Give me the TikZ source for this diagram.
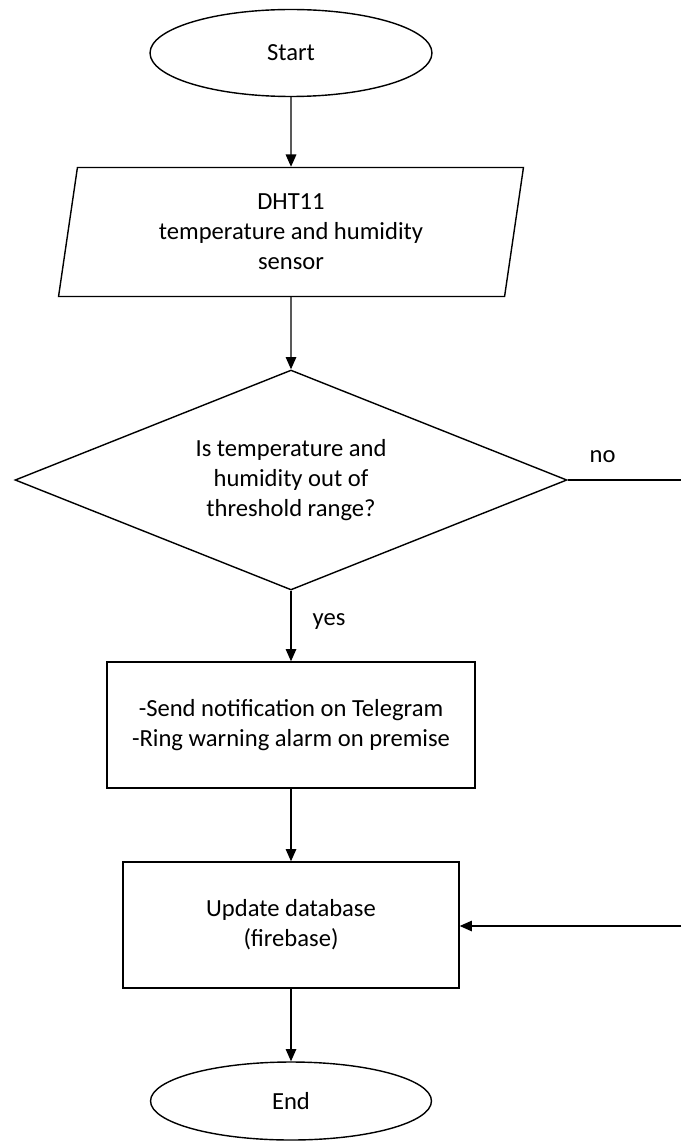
\documentclass[tikz,border=0pt]{standalone}
\usepackage{fontspec}
\setmainfont{Carlito}
\usetikzlibrary{shapes.geometric,arrows.meta}

\begin{document}
\begin{tikzpicture}[x=0.02cm,y=-0.02cm,line width=0.8pt,
    >={Triangle[length=7pt,width=6pt]},
    font=\fontsize{14}{17}\selectfont]
    \tikzstyle{terminal}=[draw,ellipse,inner sep=0pt]
    \tikzstyle{io}=[draw,trapezium,trapezium left angle=76,trapezium right angle=104,
        minimum width=9.3cm,minimum height=2.58cm,inner sep=0pt,align=center,
        trapezium stretches body]
    \tikzstyle{decision}=[draw,diamond,aspect=2.5,minimum width=11.04cm,minimum height=4.4cm,
        inner sep=0pt,align=center]
    \tikzstyle{process}=[draw,rectangle,inner sep=0pt,align=center,minimum height=2.52cm]
    \useasboundingbox (0,0) rectangle (681,1142);
    \node[terminal,minimum width=5.64cm,minimum height=1.74cm] (start) at (291,53) {Start};
    \node[io] (sensor) at (291,232) {DHT11\\temperature and humidity\\sensor};
    \node[decision] (check) at (291,480) {Is temperature and\\humidity out of\\threshold range?};
    \node[process,minimum width=7.36cm] (notify) at (291,725) {-Send notification on Telegram\\-Ring warning alarm on premise};
    \node[process,minimum width=6.72cm] (update) at (291,925) {Update database\\(firebase)};
    \node[terminal,minimum width=5.62cm,minimum height=1.56cm] (end) at (291,1101) {End};
    \node[anchor=base west,inner sep=0pt] (no_label) at (589,462) {no};
    \coordinate (no_end) at (681,480);
    \coordinate (loop_in) at (681,926);
    \draw[->] (start) -- (sensor);
    \draw[->] (sensor) -- (check);
    \draw[->] (check) -- (notify);
    \node[anchor=base west,inner sep=0pt] (yes_label) at (312,625) {yes};
    \draw (check) -- (no_end);
    \draw[->] (notify) -- (update);
    \draw[->] (loop_in) -- (loop_in -| update.east);
    \draw[->] (update) -- (end);
\end{tikzpicture}
\end{document}
